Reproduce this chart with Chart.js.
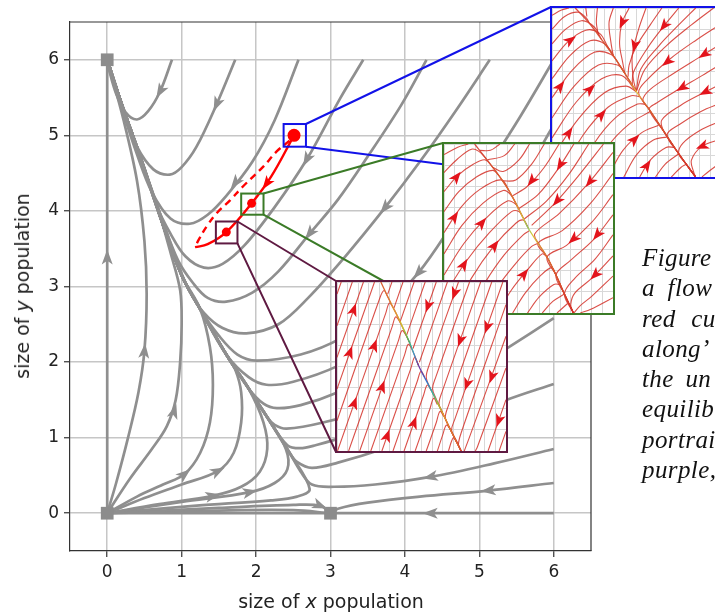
<!DOCTYPE html>
<html>
<head>
<meta charset="utf-8">
<script src="https://cdn.jsdelivr.net/npm/chart.js@4.4.1/dist/chart.umd.min.js"></script>
<style>
html, body { margin: 0; padding: 0; background: #fff; overflow: hidden; width: 715px; height: 614px; }
#wrap { position: relative; width: 715px; height: 614px; overflow: hidden; }
#main { position: absolute; left: 0; top: 0; }
.inset { position: absolute; box-sizing: border-box; border: 2px solid #000; background: #fff; }
.inset canvas { display: block; }
.axt { position: absolute; font-family: "DejaVu Sans"; font-size: 19px; color: #222; white-space: nowrap; }
#xTitle { left: 331px; top: 590px; transform: translateX(-50%); }
#yTitle { left: 22px; top: 286px; transform: translate(-50%, -50%) rotate(-90deg); }
#caption { position: absolute; left: 642px; top: 243px; font-family: "Liberation Serif"; font-style: italic;
  font-size: 25px; line-height: 30.3px; letter-spacing: 0.4px; white-space: nowrap; color: #111; }
</style>
</head>
<body>
<div id="wrap">
  <canvas id="main" width="715" height="614"></canvas>
  <div class="inset" id="fBlue"><canvas id="cBlue" width="169" height="169"></canvas></div>
  <div class="inset" id="fGreen"><canvas id="cGreen" width="169" height="169"></canvas></div>
  <div class="inset" id="fPurple"><canvas id="cPurple" width="169" height="169"></canvas></div>
  <div class="axt" id="xTitle">size of <i>x</i> population</div>
  <div class="axt" id="yTitle">size of <i>y</i> population</div>
  <div id="caption">
    <div>Figure</div>
    <div style="word-spacing:6px">a flow</div>
    <div style="word-spacing:9px">red cu</div>
    <div>along’</div>
    <div style="word-spacing:5px">the un</div>
    <div>equilib</div>
    <div>portrai</div>
    <div>purple,</div>
  </div>
</div>
<script>
// axis ticks
const xTicks = [0, 1, 2, 3, 4, 5, 6];
const yTicks = [0, 1, 2, 3, 4, 5, 6];

// equilibria (grey squares)
const equilibria = [0, 0, 0, 6, 3, 0];

// grey streamlines, flat x,y pairs
const curveA = [0.87,6.0, 0.71,5.58, 0.55,5.32, 0.4,5.21, 0.25,5.3, 0.12,5.55, 0.03,5.85, 0,6];
const curveB = [1.72,6.0, 1.47,5.41, 1.2,4.85, 1.0,4.58, 0.84,4.48, 0.62,4.55, 0.4,4.85, 0.2,5.35, 0.05,5.8, 0,6];
const curveC = [2.57,6.0, 2.25,5.2, 1.95,4.65, 1.6,4.2, 1.35,3.95, 1.11,3.83, 0.85,3.9, 0.6,4.25, 0.4,4.75, 0.2,5.35, 0,6];
const curveD = [3.44,6.0, 3.13,5.49, 2.68,4.68, 2.25,4.05, 1.85,3.55, 1.55,3.3, 1.3,3.25, 1.05,3.4, 0.85,3.7, 0.65,4.1, 0.45,4.7, 0.2,5.4, 0,6];
const curveE = [4.29,6.0, 3.95,5.4, 3.5,4.72, 3.1,4.15, 2.72,3.7, 2.3,3.2, 1.95,2.92, 1.6,2.8, 1.35,2.85, 1.15,3.05, 0.95,3.35, 0.75,3.85, 0.45,4.7, 0.2,5.4, 0,6];
const curveF = [5.14,6.0, 4.7,5.35, 4.2,4.65, 3.73,4.04, 3.2,3.4, 2.7,2.85, 2.3,2.5, 1.87,2.38, 1.55,2.45, 1.3,2.65, 1.1,2.95, 0.95,3.3, 0.75,3.85, 0.45,4.7, 0.2,5.4, 0,6];
const curveG = [6.0,6.0, 5.55,5.25, 5.1,4.55, 4.62,3.8, 4.18,3.18, 3.7,2.7, 3.15,2.32, 2.6,2.1, 2.01,2.02, 1.75,2.1, 1.5,2.35, 1.25,2.7, 1.0,3.15, 0.72,3.9, 0.45,4.7, 0.2,5.4, 0,6];
const curveH = [6.0,5.14, 5.65,4.55, 5.25,3.95, 4.8,3.35, 4.3,2.8, 3.7,2.3, 3.1,1.95, 2.5,1.74, 2.14,1.7, 1.9,1.8, 1.6,2.1, 1.25,2.7, 1.0,3.15, 0.72,3.9, 0.45,4.7, 0.2,5.4, 0,6];
const curveI = [6.0,4.29, 5.6,3.65, 5.1,3.0, 4.5,2.4, 3.8,1.95, 3.1,1.6, 2.6,1.43, 2.28,1.39, 2.1,1.45, 1.9,1.65, 1.6,2.1, 1.25,2.7, 1.0,3.15, 0.72,3.9, 0.45,4.7, 0.2,5.4, 0,6];
const curveJ = [6.0,3.44, 5.5,2.8, 4.9,2.2, 4.2,1.72, 3.5,1.38, 2.9,1.2, 2.41,1.12, 2.25,1.17, 2.15,1.27, 1.9,1.65, 1.6,2.1, 1.25,2.7, 1.0,3.15, 0.72,3.9, 0.45,4.7, 0.2,5.4, 0,6];
const curveK = [6.0,2.58, 5.37,2.18, 4.6,1.7, 3.8,1.28, 3.2,1.02, 2.8,0.9, 2.59,0.86, 2.42,0.9, 2.15,1.27, 1.9,1.65, 1.6,2.1, 1.25,2.7, 1.0,3.15, 0.72,3.9, 0.45,4.7, 0.2,5.4, 0,6];
const curveL = [6.0,1.71, 5.37,1.5, 4.5,1.15, 3.7,0.85, 3.1,0.67, 2.75,0.6, 2.55,0.68, 2.45,0.8, 2.15,1.27, 1.9,1.65, 1.6,2.1, 1.25,2.7, 1.0,3.15, 0.72,3.9, 0.45,4.7, 0.2,5.4, 0,6];
const curveM = [6.0,0.85, 5.2,0.66, 4.34,0.48, 3.6,0.38, 3.05,0.35, 2.75,0.38, 2.6,0.55, 2.45,0.8, 2.15,1.27, 1.9,1.65, 1.6,2.1, 1.25,2.7, 1.0,3.15, 0.72,3.9, 0.45,4.7, 0.2,5.4, 0,6];
const curveN = [6.0,0.4, 5.12,0.3, 4.2,0.22, 3.5,0.14, 3.1,0.06, 3.0,0];
const axisXRight = [6, 0, 3, 0];
const axisXLeft = [0, 0, 3, 0];
const axisY = [0, 0, 0, 6];
const lower1 = [0,0, 0.12,0.4, 0.28,1.0, 0.42,1.6, 0.5,2.15, 0.53,2.9, 0.5,3.6, 0.4,4.4, 0.22,5.2, 0,6];
const lower2 = [0,0, 0.3,0.45, 0.6,0.85, 0.8,1.15, 0.92,1.5, 0.98,2.0, 1.0,2.5, 0.98,2.95, 0.85,3.45, 0.72,3.9, 0.45,4.7, 0.2,5.4, 0,6];
const lower3 = [0,0, 0.4,0.22, 0.75,0.38, 1.04,0.52, 1.25,0.8, 1.38,1.2, 1.42,1.7, 1.38,2.2, 1.25,2.7, 1.0,3.15, 0.72,3.9, 0.45,4.7, 0.2,5.4, 0,6];
const lower4 = [0,0, 0.5,0.2, 1.0,0.38, 1.49,0.56, 1.7,0.8, 1.8,1.2, 1.8,1.6, 1.72,1.9, 1.6,2.1, 1.25,2.7, 1.0,3.15, 0.72,3.9, 0.45,4.7, 0.2,5.4, 0,6];
const lower5 = [0,0, 0.7,0.12, 1.42,0.23, 1.8,0.35, 2.05,0.55, 2.15,0.85, 2.1,1.2, 1.9,1.65, 1.6,2.1, 1.25,2.7, 1.0,3.15, 0.72,3.9, 0.45,4.7, 0.2,5.4, 0,6];
const lower6 = [0,0, 1.0,0.15, 1.92,0.28, 2.25,0.4, 2.42,0.58, 2.4,0.85, 2.15,1.27, 1.9,1.65, 1.6,2.1, 1.25,2.7, 1.0,3.15, 0.72,3.9, 0.45,4.7, 0.2,5.4, 0,6];
const lower7 = [0,0, 1.2,0.1, 2.2,0.17, 2.55,0.22, 2.72,0.32, 2.45,0.8, 2.15,1.27, 1.9,1.65, 1.6,2.1, 1.25,2.7, 1.0,3.15, 0.72,3.9, 0.45,4.7, 0.2,5.4, 0,6];
const lower8 = [0,0, 1.5,0.07, 2.5,0.11, 2.86,0.1, 3.0,0];
const lower9 = [0,0, 1.5,0.035, 2.5,0.04, 3.0,0];
const grayCurves = [curveA, curveB, curveC, curveD, curveE, curveF, curveG, curveH, curveI, curveJ, curveK,
  curveL, curveM, curveN, axisXRight, axisXLeft, axisY,
  lower1, lower2, lower3, lower4, lower5, lower6, lower7, lower8, lower9];

// arrow heads on grey lines: x, y, direction dx, dy
const grayArrows = [
  [0.71,5.58,-0.35,-0.6], [1.47,5.41,-0.45,-1], [1.72,4.37,-0.7,-0.9], [2.68,4.68,-0.55,-1],
  [2.72,3.7,-0.8,-1], [3.73,4.04,-0.85,-1], [4.18,3.18,-0.9,-1],
  [0,3.39,0,1], [0.5,2.15,0.1,1], [0.9,1.35,0.3,1], [1.04,0.52,1,0.8], [1.49,0.56,1,0.5],
  [1.42,0.23,1,0.2], [1.92,0.28,1,0.2], [2.86,0.1,1,-0.4],
  [4.34,0.48,-1,-0.22], [5.12,0.3,-1,-0.1], [4.34,0,-1,0]
];

// red curve
const redDashed = [2.45,4.93, 2.28,4.79, 2.1,4.59, 1.82,4.32, 1.65,4.14, 1.47,3.97, 1.34,3.8, 1.23,3.62, 1.18,3.52];
const redSolid = [1.18,3.52, 1.35,3.56, 1.6,3.72, 1.94,4.1, 2.2,4.45, 2.51,5.0];
const redDots = [1.6,3.72, 1.94,4.1, 2.51,5.0];
const redArrows = [[2.14,4.36,-0.55,-0.75]];

// zoom boxes in data units: x0, x1, y0, y1 (blue, green, purple)
const zoomBoxes = [[2.37,2.67,4.85,5.15], [1.80,2.10,3.95,4.23], [1.46,1.75,3.57,3.86]];

// inset streamlines, inset units 0..16
const blueS = [2.2,16, 3.5,14.6, 4.7,13.0, 5.8,11.5, 6.9,9.8, 7.98,8.08, 9.2,6.4, 10.6,4.3, 12.0,2.2, 13.6,0];
const blueLines = [
  [0,15.3, 0.9,15.8, 1.6,16],
  [0,14.0, 1.2,15.2, 2.5,15.6, 3.3,15.0, 3.5,14.6],
  [0,12.6, 1.3,14.0, 2.8,14.8, 4.0,14.2, 4.7,13.0],
  [0,11.0, 1.5,12.8, 3.2,13.9, 4.5,13.6, 5.3,12.3, 5.8,11.5],
  [0,9.3, 1.7,11.5, 3.6,12.9, 5.0,12.6, 5.8,11.5, 6.9,9.8],
  [0,7.5, 1.9,10.1, 4.0,11.8, 5.6,11.6, 6.4,10.6, 6.9,9.8, 7.98,8.08],
  [0,5.6, 2.1,8.6, 4.4,10.6, 6.2,10.6, 6.9,9.8, 7.98,8.08],
  [0,3.7, 2.3,7.1, 4.7,9.3, 6.6,9.6, 7.98,8.08],
  [0,1.8, 2.5,5.5, 5.0,8.0, 7.0,8.6, 7.98,8.08],
  [0.8,0, 2.9,3.9, 5.3,6.6, 7.5,7.7, 8.3,7.6],
  [2.3,0, 4.0,3.2, 6.0,5.6, 8.1,6.9, 8.8,6.9],
  [3.8,0, 5.3,2.9, 7.3,5.0, 9.3,6.2],
  [5.3,0, 6.7,2.5, 8.5,4.2, 10.1,4.9],
  [6.8,0, 8.0,2.1, 9.6,3.5, 10.9,3.8],
  [8.3,0, 9.3,1.6, 10.8,2.8, 11.6,2.8],
  [9.8,0, 10.7,1.2, 12.0,2.2],
  [11.3,0, 12.2,0.9, 12.7,1.2],
  [16,1.4, 14.8,0.5, 14.2,0],
  [16,3.6, 14.2,2.9, 13.2,1.6, 13.4,0.5, 13.6,0],
  [16,5.3, 14.0,4.4, 12.4,3.2, 12.0,2.2, 12.8,1.1, 13.6,0],
  [16,7.0, 14.1,6.2, 12.1,5.0, 10.9,4.0, 12.0,2.2, 13.6,0],
  [16,8.8, 14.2,7.9, 12.2,6.8, 10.4,5.4, 10.6,4.3, 12.0,2.2, 13.6,0],
  [16,10.7, 14.2,9.6, 12.0,8.3, 9.9,7.0, 9.2,6.4, 10.6,4.3, 12.0,2.2, 13.6,0],
  [16,12.6, 13.9,11.3, 11.5,9.8, 9.3,8.3, 8.6,7.3, 9.2,6.4, 10.6,4.3, 12.0,2.2, 13.6,0],
  [16,14.5, 13.7,13.0, 11.2,11.2, 9.0,9.2, 8.2,8.0, 9.2,6.4, 10.6,4.3, 12.0,2.2, 13.6,0],
  [15.3,16, 13.2,14.4, 10.8,12.4, 8.8,10.2, 7.98,8.08],
  [13.6,16, 11.9,14.3, 10.1,12.4, 8.4,10.2, 7.98,8.08],
  [12.0,16, 10.6,14.3, 9.1,12.3, 7.7,9.9, 7.6,8.7],
  [10.4,16, 9.3,14.4, 8.0,12.4, 7.3,10.6, 7.2,9.5],
  [8.9,16, 8.2,14.0, 7.6,11.5, 7.7,9.3, 7.98,8.08],
  [7.3,16, 6.6,14.5, 6.4,12.6, 6.7,10.8, 6.9,9.8],
  [5.8,16, 5.4,14.6, 5.6,12.6, 5.8,11.5],
  [4.3,16, 4.2,14.6, 4.4,13.4],
  [3.2,16, 3.3,15.2]
];
const blueArrows = [
  [1.77,12.97,1,0.7], [0.8,8.6,0.75,1], [3.63,8.32,1,0.9], [4.7,5.9,0.9,1], [1.6,4.2,0.68,1],
  [7.83,3.57,1,0.95], [9.0,1.1,0.65,1],
  [6.65,14.6,-0.45,-1], [7.82,12.4,-0.25,-1], [10.6,14.3,-0.8,-1], [10.9,10.9,-1,-0.8],
  [12.3,8.45,-1,-0.6], [14.4,11.6,-1,-0.65], [14.5,8.05,-1,-0.5], [14.2,2.9,-1,-0.4]
];

const greenS = [2.9,16, 4.0,14.6, 5.2,13.0, 6.2,11.5, 7.1,9.8, 8.0,8.0, 8.9,6.6, 9.75,5.3, 10.6,3.6, 11.4,1.8, 12.25,0];
const greenLines = [
  [0,15.0, 1.3,15.7, 2.3,16],
  [0,13.3, 1.3,14.6, 2.6,15.5, 3.3,15.3, 4.0,14.6],
  [0,11.5, 1.3,13.0, 2.8,14.1, 3.9,14.5, 4.6,13.8, 5.2,13.0],
  [0,9.6, 1.4,11.5, 3.1,12.9, 4.6,13.5, 5.2,13.0, 6.2,11.5],
  [0,7.6, 1.6,10.0, 3.4,11.7, 5.4,12.6, 6.2,11.5, 7.1,9.8],
  [0,5.6, 1.7,8.3, 3.7,10.4, 5.6,11.6, 6.3,11.2, 7.1,9.8],
  [0,3.6, 1.9,6.6, 4.0,9.0, 6.0,10.6, 6.8,10.3, 7.1,9.8, 8.0,8.0],
  [0,1.6, 2.1,4.9, 4.3,7.6, 6.4,9.6, 7.1,9.6, 7.5,9.0],
  [0.9,0, 2.6,3.3, 4.7,6.3, 6.8,8.5, 7.5,8.8, 7.9,8.2],
  [2.3,0, 3.9,2.9, 5.7,5.5, 7.5,7.4, 8.1,7.8],
  [3.7,0, 5.1,2.5, 6.8,4.7, 8.3,6.3, 8.9,6.6],
  [5.1,0, 6.4,2.2, 8.0,4.2, 9.3,5.6, 9.75,5.3],
  [6.5,0, 7.7,1.9, 9.2,3.6, 10.2,4.3, 10.6,3.6],
  [7.9,0, 9.0,1.5, 10.4,2.7, 11.0,2.7],
  [9.3,0, 10.3,1.1, 11.4,1.8],
  [10.7,0, 11.7,0.9],
  [16,1.45, 13.9,0.35, 12.9,0],
  [16,3.5, 14.0,1.6, 12.9,0.7, 12.3,0],
  [16,5.4, 14.0,3.3, 12.4,1.9, 12.0,0.8, 12.25,0],
  [16,7.4, 14.3,5.1, 12.4,3.3, 11.4,1.8, 12.25,0],
  [16,9.3, 14.2,7.0, 12.0,5.0, 10.6,3.6, 11.4,1.8, 12.25,0],
  [16,11.2, 14.0,8.6, 11.6,6.4, 9.75,5.3, 10.6,3.6, 11.4,1.8, 12.25,0],
  [16,13.2, 13.8,10.3, 11.2,7.8, 8.9,6.6, 9.75,5.3, 10.6,3.6, 11.4,1.8, 12.25,0],
  [16,15.2, 13.6,12.2, 10.9,9.4, 8.6,7.5, 9.0,6.5, 9.75,5.3, 10.6,3.6, 11.4,1.8, 12.25,0],
  [15.1,16, 12.9,13.2, 10.5,10.4, 8.3,8.3],
  [13.7,16, 11.8,13.1, 9.7,10.6, 7.6,8.9],
  [12.3,16, 10.7,13.5, 8.9,11.2, 7.1,9.9],
  [10.9,16, 9.5,13.8, 7.9,12.0, 6.5,11.1],
  [9.5,16, 8.3,14.1, 6.8,12.6, 5.5,12.5],
  [8.1,16, 7.1,14.5, 5.6,13.4, 4.6,13.8],
  [6.7,16, 5.7,14.9, 4.1,14.5],
  [5.3,16, 4.4,15.4, 3.4,15.4]
];
const greenArrows = [
  [1.2,12.9,0.8,1], [1.0,9.1,0.65,1], [3.6,8.55,0.85,1], [4.8,6.4,0.75,1], [1.9,4.6,0.6,1], [7.6,3.7,0.8,1],
  [8.3,12.5,-0.8,-1], [11.0,14.0,-0.6,-1], [10.7,10.6,-0.85,-1], [13.8,12.4,-0.8,-1],
  [12.24,7.0,-1,-0.9], [14.5,7.4,-0.8,-1], [14.3,3.6,-1,-1]
];

const purpleS = [4.15,16, 5.1,14, 6.0,12.2, 6.9,10.2, 7.72,8.1, 8.8,6.0, 9.9,3.8, 10.9,1.7, 11.75,0];
const purpleLines = [
  [0,14.86, 0.4,16],
  [0,11.86, 1.45,16],
  [0,8.86, 2.5,16],
  [0,5.86, 3.55,16],
  [0,2.86, 4.1,14.6, 4.45,15.2, 4.7,14.8, 5.1,14.0],
  [0.05,0, 4.6,13.0, 4.95,14.0, 5.3,13.6, 6.0,12.2],
  [1.1,0, 5.2,11.7, 5.55,12.7, 5.9,12.3, 6.9,10.2],
  [2.15,0, 5.8,10.4, 6.15,11.4, 6.5,11.0, 6.9,10.2],
  [3.2,0, 6.4,9.1, 6.75,10.1, 7.1,9.6, 7.72,8.1],
  [4.25,0, 7.0,7.85, 7.35,8.85, 7.72,8.1],
  [5.3,0, 7.6,6.6, 7.95,7.55, 8.3,7.0],
  [6.35,0, 8.2,5.3, 8.55,6.25, 8.95,5.7],
  [7.4,0, 8.8,4.0, 9.15,5.0, 9.5,4.4],
  [8.45,0, 9.4,2.7, 9.75,3.75, 10.1,3.3],
  [9.5,0, 10.0,1.5, 10.35,2.45, 10.7,2.1],
  [10.55,0, 11.0,1.25, 11.3,0.9],
  [5.2,16, 4.8,14.85],
  [6.25,16, 5.4,13.55],
  [7.3,16, 6.0,12.3],
  [8.35,16, 6.6,11.0],
  [9.4,16, 7.2,9.7],
  [10.45,16, 7.8,8.4],
  [11.5,16, 8.75,8.2, 8.45,7.0, 8.8,6.0, 9.9,3.8, 10.9,1.7, 11.75,0],
  [12.55,16, 9.35,7.0, 9.05,5.9, 9.4,4.9, 9.9,3.8, 10.9,1.7, 11.75,0],
  [13.6,16, 9.95,5.6, 9.65,4.5, 9.9,3.8, 10.9,1.7, 11.75,0],
  [14.65,16, 10.55,4.3, 10.25,3.2, 10.5,2.5, 10.9,1.7, 11.75,0],
  [15.7,16, 11.15,3.0, 10.85,1.95, 11.3,1.0, 11.75,0],
  [16,13.86, 11.75,1.7, 11.5,0.6, 11.75,0],
  [16,10.86, 12.5,1.2, 12.05,0],
  [16,7.86, 13.3,0.4, 13.1,0],
  [16,4.86, 14.3,0],
  [16,1.86, 15.35,0]
];
const purpleArrows = [
  [1.59,13.4,0.35,1], [1.23,9.36,0.35,1], [3.55,10.0,0.35,1], [4.29,6.1,0.35,1], [1.65,4.56,0.35,1],
  [4.76,1.46,0.35,1], [7.3,2.7,0.35,1],
  [11.12,14.9,-0.35,-1], [8.6,13.7,-0.35,-1], [11.66,10.45,-0.35,-1], [14.2,11.7,-0.35,-1],
  [14.65,7.0,-0.35,-1], [12.3,6.3,-0.35,-1], [15.3,2.85,-0.35,-1]
];

// layout of the three insets (page pixels) and their frame colours
const insetFrames = [
  { frame: 'fBlue', canvas: 'cBlue', left: 550, top: 6, size: 173, color: '#1212e8' },
  { frame: 'fGreen', canvas: 'cGreen', left: 442, top: 142, size: 173, color: '#3b7b27' },
  { frame: 'fPurple', canvas: 'cPurple', left: 335, top: 280, size: 173, color: '#5f1a42' }
];

Chart.defaults.font.family = 'DejaVu Sans';

const toPts = f => {
    const out = [];
    for (let i = 0; i < f.length; i += 2) out.push({ x: f[i], y: f[i + 1] });
    return out;
};

function arrowPlugin(id, list, color, len, wid) {
    return {
        id: id,
        afterDatasetsDraw(chart) {
            const { ctx, scales: { x, y } } = chart;
            ctx.save();
            ctx.fillStyle = color;
            list.forEach(([ax, ay, dx, dy]) => {
                const px = x.getPixelForValue(ax), py = y.getPixelForValue(ay);
                const qx = x.getPixelForValue(ax + dx * 0.05), qy = y.getPixelForValue(ay + dy * 0.05);
                const ang = Math.atan2(qy - py, qx - px);
                ctx.save();
                ctx.translate(px, py);
                ctx.rotate(ang);
                ctx.beginPath();
                ctx.moveTo(len / 2, 0);
                ctx.lineTo(-len / 2, wid / 2);
                ctx.lineTo(-len / 4, 0);
                ctx.lineTo(-len / 2, -wid / 2);
                ctx.closePath();
                ctx.fill();
                ctx.restore();
            });
            ctx.restore();
        }
    };
}

// main phase portrait
const mainSets = [];
mainSets.push({ data: toPts(redDots), showLine: false, pointRadius: [4.5, 4.5, 6.5], backgroundColor: '#f00', borderColor: '#f00', pointBorderWidth: 0 });
mainSets.push({ data: toPts(redSolid), showLine: true, borderColor: '#f00', borderWidth: 2.4, tension: 0.4, pointRadius: 0 });
mainSets.push({ data: toPts(redDashed), showLine: true, borderColor: '#f00', borderWidth: 2.4, borderDash: [7, 5], tension: 0.4, pointRadius: 0 });
mainSets.push({ data: toPts(equilibria), showLine: false, pointStyle: 'rect', pointRadius: 9, backgroundColor: '#8c8c8c', borderColor: '#8c8c8c', pointBorderWidth: 0 });
grayCurves.forEach(c => mainSets.push({ data: toPts(c), showLine: true, borderColor: '#8f8f8f', borderWidth: 2.7, tension: 0.35, pointRadius: 0 }));

const decor = {
    id: 'decor',
    afterDraw(chart) {
        const { ctx, chartArea: a, scales: { x, y } } = chart;
        ctx.save();
        ctx.strokeStyle = '#333';
        ctx.lineWidth = 1.2;
        ctx.beginPath();
        ctx.moveTo(a.left, a.top);
        ctx.lineTo(a.right, a.top);
        ctx.lineTo(a.right, a.bottom);
        ctx.stroke();
        zoomBoxes.forEach((b, i) => {
            const f = insetFrames[i];
            const x0 = x.getPixelForValue(b[0]), x1 = x.getPixelForValue(b[1]);
            const y0 = y.getPixelForValue(b[3]), y1 = y.getPixelForValue(b[2]);
            ctx.strokeStyle = f.color;
            ctx.lineWidth = 2;
            ctx.strokeRect(x0, y0, x1 - x0, y1 - y0);
            ctx.beginPath();
            ctx.moveTo(x1, y0);
            ctx.lineTo(f.left + 1, f.top + 1);
            ctx.moveTo(x1, y1);
            ctx.lineTo(f.left + 1, f.top + f.size - 1);
            ctx.stroke();
        });
        ctx.restore();
    }
};

function axisOpts(min, max, ticks, isX) {
    return {
        type: 'linear', min: min, max: max,
        afterBuildTicks: s => { s.ticks = ticks.map(v => ({ value: v })); },
        afterFit: s => { if (isX) s.height = 63; else s.width = 70; },
        ticks: { color: '#222', font: { size: 17 }, padding: 5 },
        grid: { color: '#c6c6c6', lineWidth: 1.5, tickColor: '#333', tickLength: 6, tickWidth: 1.2 },
        border: { color: '#333', width: 1.2 }
    };
}

new Chart(document.getElementById('main'), {
    type: 'scatter',
    data: { datasets: mainSets },
    options: {
        responsive: false, animation: false, events: [],
        layout: { padding: { left: 0, top: 22, right: 124, bottom: 0 } },
        plugins: { legend: { display: false }, tooltip: { enabled: false } },
        scales: { x: axisOpts(-0.5, 6.5, xTicks, true), y: axisOpts(-0.5, 6.5, yTicks, false) }
    },
    plugins: [arrowPlugin('grayArrows', grayArrows, '#8f8f8f', 15, 11), arrowPlugin('redArrows', redArrows, '#f00', 14, 10), decor]
});

// insets
const insetRed = 'rgba(212,48,40,0.85)';
const stopsBlue = [[0, 'rgba(212,48,40,0.85)'], [0.44, '#d86a30'], [0.5, '#e6c848'], [0.56, '#d86a30'], [1, 'rgba(212,48,40,0.85)']];
const stopsGreen = [[0, 'rgba(212,48,40,0.85)'], [0.34, '#dc7a30'], [0.45, '#d6c638'], [0.5, '#8ed060'], [0.55, '#d6c638'], [0.66, '#dc7a30'], [1, 'rgba(212,48,40,0.85)']];
const stopsPurple = [[0, '#d85a30'], [0.2, '#e0a030'], [0.27, '#c8c828'], [0.34, '#40c060'], [0.42, '#30a0d0'],
                     [0.5, '#7030a0'], [0.58, '#3070d0'], [0.66, '#30c0a0'], [0.72, '#a0c830'], [0.78, '#e0a030'], [1, '#d85a30']];

function insetChart(frameInfo, lines, sPts, stops, arrows) {
    const fr = document.getElementById(frameInfo.frame);
    fr.style.left = frameInfo.left + 'px';
    fr.style.top = frameInfo.top + 'px';
    fr.style.width = frameInfo.size + 'px';
    fr.style.height = frameInfo.size + 'px';
    fr.style.borderColor = frameInfo.color;

    const sets = [{
        data: toPts(sPts), showLine: true, borderWidth: 1.3, tension: 0.35, pointRadius: 0,
        borderColor: ctx => {
            const ch = ctx.chart;
            if (!ch.chartArea) return insetRed;
            const xs = ch.scales.x, ys = ch.scales.y, n = sPts.length;
            const g = ch.ctx.createLinearGradient(xs.getPixelForValue(sPts[0]), ys.getPixelForValue(sPts[1]),
                                                  xs.getPixelForValue(sPts[n - 2]), ys.getPixelForValue(sPts[n - 1]));
            stops.forEach(([o, c]) => g.addColorStop(o, c));
            return g;
        }
    }];
    lines.forEach(l => sets.push({ data: toPts(l), showLine: true, borderColor: insetRed, borderWidth: 1.1, tension: 0.35, pointRadius: 0 }));

    new Chart(document.getElementById(frameInfo.canvas), {
        type: 'scatter',
        data: { datasets: sets },
        options: {
            responsive: false, animation: false, events: [],
            layout: { padding: 0 },
            plugins: { legend: { display: false }, tooltip: { enabled: false } },
            scales: {
                x: { type: 'linear', min: 0, max: 16, ticks: { display: false, stepSize: 1 },
                     grid: { color: '#d8d8d8', lineWidth: 1, drawTicks: false }, border: { display: false },
                     afterFit: s => { s.height = 0; } },
                y: { type: 'linear', min: 0, max: 16, ticks: { display: false, stepSize: 2 },
                     grid: { color: '#d8d8d8', lineWidth: 1, drawTicks: false }, border: { display: false },
                     afterFit: s => { s.width = 0; } }
            }
        },
        plugins: [arrowPlugin('insetArrows', arrows, '#e3141c', 13, 10)]
    });
}

insetChart(insetFrames[0], blueLines, blueS, stopsBlue, blueArrows);
insetChart(insetFrames[1], greenLines, greenS, stopsGreen, greenArrows);
insetChart(insetFrames[2], purpleLines, purpleS, stopsPurple, purpleArrows);
</script>
</body>
</html>
